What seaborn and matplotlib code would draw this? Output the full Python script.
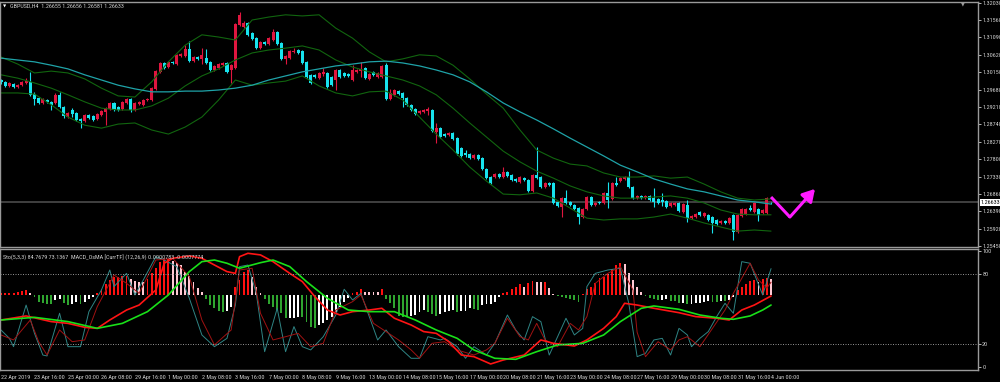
import matplotlib
matplotlib.use("Agg")
import matplotlib.pyplot as plt
from matplotlib import font_manager
import numpy as np
import seaborn as sns

# ---- candles (GBPUSD H4), prices in pips (price * 1e4) ----
opens = [
    12994, 12989, 12978, 12983, 12975, 12980, 12986, 12989, 12956, 12945,
    12932, 12940, 12935, 12932, 12954, 12921, 12894, 12913, 12905, 12889,
    12883, 12900, 12897, 12889, 12900, 12908, 12916, 12932, 12921, 12916,
    12932, 12943, 12913, 12929, 12926, 12940, 12940, 12970, 13016, 13040,
    13029, 13043, 13037, 13059, 13059, 13078, 13045, 13056, 13051, 13053,
    13043, 13021, 13026, 13034, 13040, 13021, 13026, 13142, 13137, 13148,
    13121, 13107, 13080, 13097, 13091, 13102, 13124, 13094, 13051, 13053,
    13070, 13075, 13072, 13043, 13008, 13008, 12999, 13010, 13013, 13002,
    12994, 13021, 13013, 13010, 12994, 13016, 13018, 13026, 12997, 13016,
    13002, 13002, 13034, 12943, 12954, 12964, 12959, 12945, 12926, 12916,
    12905, 12908, 12910, 12913, 12854, 12864, 12848, 12846, 12851, 12837,
    12810, 12797, 12794, 12783, 12792, 12783, 12754, 12732, 12732, 12740,
    12732, 12746, 12738, 12727, 12719, 12729, 12724, 12694, 12738, 12732,
    12705, 12716, 12716, 12665, 12651, 12675, 12665, 12656, 12648, 12624,
    12646, 12678, 12656, 12665, 12662, 12689, 12673, 12716, 12721, 12727,
    12732, 12705, 12675, 12681, 12675, 12681, 12675, 12673, 12670, 12667,
    12654, 12656, 12662, 12638, 12656, 12621, 12624, 12638, 12627, 12630,
    12624, 12616, 12608, 12613, 12608, 12630, 12584, 12627, 12632, 12648,
    12638, 12646, 12635, 12635, 12665.5,
]
highs = [
    12997, 12991, 12989, 12986, 12983, 12991, 12999, 13016, 12962, 12948,
    12945, 12943, 12937, 12959, 12962, 12924, 12908, 12918, 12908, 12891,
    12902, 12902, 12900, 12905, 12913, 12921, 12935, 12935, 12924, 12937,
    12945, 12945, 12935, 12937, 12943, 12945, 12975, 13021, 13043, 13043,
    13045, 13045, 13064, 13067, 13088, 13099, 13059, 13059, 13080, 13078,
    13045, 13034, 13040, 13043, 13043, 13037, 13148, 13178, 13153, 13151,
    13124, 13110, 13099, 13099, 13110, 13132, 13126, 13097, 13062, 13075,
    13080, 13078, 13075, 13045, 13010, 13010, 13016, 13026, 13016, 13005,
    13024, 13024, 13016, 13013, 13034, 13024, 13043, 13029, 13013, 13018,
    13016, 13034, 13040, 12970, 12970, 12967, 12962, 12948, 12929, 12918,
    12913, 12916, 12921, 12916, 12878, 12867, 12851, 12854, 12854, 12840,
    12813, 12805, 12797, 12794, 12794, 12786, 12756, 12735, 12743, 12743,
    12759, 12748, 12740, 12729, 12735, 12732, 12727, 12740, 12813, 12735,
    12719, 12719, 12719, 12667, 12678, 12697, 12667, 12659, 12651, 12648,
    12681, 12681, 12665, 12667, 12692, 12719, 12719, 12732, 12732, 12735,
    12748, 12708, 12684, 12684, 12684, 12684, 12702, 12675, 12689, 12670,
    12665, 12665, 12665, 12662, 12670, 12630, 12635, 12640, 12638, 12632,
    12627, 12619, 12616, 12616, 12624, 12632, 12632, 12648, 12648, 12656,
    12665, 12648, 12646, 12678, 12665.6,
]
lows = [
    12983, 12975, 12975, 12972, 12972, 12978, 12983, 12951, 12926, 12929,
    12929, 12932, 12913, 12929, 12918, 12891, 12891, 12894, 12883, 12864,
    12881, 12889, 12883, 12886, 12897, 12872, 12913, 12910, 12910, 12913,
    12929, 12908, 12910, 12926, 12924, 12937, 12937, 12967, 13013, 13024,
    13026, 13037, 13034, 13056, 13056, 13043, 13043, 13048, 13037, 13037,
    13018, 13018, 13024, 13032, 13013, 12986, 13024, 13140, 13134, 13113,
    13102, 13078, 13078, 13088, 13088, 13099, 13088, 13048, 13037, 13051,
    13067, 13064, 13037, 12999, 12983, 12999, 12997, 13005, 12972, 12978,
    12967, 12999, 13002, 13002, 12991, 13013, 13002, 12997, 12994, 13005,
    12999, 12999, 12940, 12940, 12951, 12954, 12921, 12924, 12910, 12900,
    12902, 12905, 12900, 12854, 12824, 12837, 12840, 12843, 12832, 12792,
    12786, 12786, 12781, 12781, 12778, 12751, 12727, 12713, 12729, 12729,
    12729, 12732, 12721, 12719, 12716, 12721, 12692, 12692, 12727, 12702,
    12702, 12708, 12659, 12651, 12624, 12659, 12654, 12643, 12605, 12621,
    12643, 12654, 12654, 12659, 12659, 12648, 12670, 12708, 12719, 12724,
    12702, 12673, 12673, 12673, 12673, 12667, 12651, 12659, 12654, 12648,
    12651, 12654, 12638, 12635, 12611, 12619, 12621, 12627, 12624, 12613,
    12581, 12602, 12605, 12605, 12605, 12562, 12581, 12624, 12630, 12640,
    12635, 12613, 12632, 12632, 12658.1,
]
closes = [
    12989, 12978, 12986, 12975, 12980, 12989, 12991, 12954, 12943, 12932,
    12943, 12935, 12926, 12954, 12921, 12897, 12905, 12902, 12886, 12883,
    12900, 12891, 12886, 12902, 12910, 12918, 12932, 12913, 12913, 12935,
    12943, 12913, 12932, 12935, 12940, 12943, 12972, 13018, 13040, 13026,
    13043, 13040, 13062, 13064, 13078, 13045, 13056, 13051, 13062, 13040,
    13021, 13032, 13037, 13040, 13016, 13034, 13145, 13170, 13148, 13116,
    13105, 13080, 13097, 13091, 13107, 13124, 13091, 13051, 13059, 13072,
    13072, 13067, 13040, 13002, 12986, 13002, 13013, 13016, 12975, 12980,
    13021, 13002, 13005, 13005, 13021, 13021, 13024, 12999, 13010, 13008,
    13013, 13032, 12943, 12959, 12967, 12956, 12945, 12926, 12913, 12902,
    12910, 12913, 12916, 12856, 12864, 12840, 12843, 12851, 12835, 12794,
    12789, 12792, 12783, 12792, 12781, 12754, 12729, 12716, 12740, 12732,
    12746, 12735, 12724, 12721, 12732, 12724, 12694, 12738, 12729, 12705,
    12716, 12710, 12662, 12654, 12675, 12662, 12656, 12646, 12624, 12646,
    12678, 12656, 12662, 12662, 12689, 12670, 12716, 12710, 12729, 12732,
    12705, 12675, 12681, 12675, 12681, 12670, 12665, 12662, 12665, 12651,
    12662, 12662, 12640, 12659, 12621, 12627, 12632, 12630, 12635, 12616,
    12608, 12605, 12613, 12608, 12621, 12584, 12630, 12646, 12646, 12643,
    12662, 12630, 12643, 12675, 12663.3,
]

# ---- overlays sampled every 4 bars (pips) ----
overlay_bars = list(range(0, 185, 4))
bb_upper = [
    13056, 13037, 13013, 13018, 13013, 12997, 12972, 12951, 12948, 12989,
    13043, 13088, 13116, 13110, 13102, 13156, 13164, 13170, 13167, 13170,
    13134, 13107, 13070, 13043, 13051, 13062, 13059, 13034, 12997, 12956,
    12918, 12859, 12805, 12783, 12767, 12762, 12743, 12732, 12732, 12735,
    12729, 12732, 12713, 12692, 12675, 12670, 12673,
]
bb_mid = [
    13008, 12999, 12986, 12972, 12954, 12935, 12918, 12913, 12913, 12924,
    12945, 12978, 13005, 13024, 13048, 13067, 13075, 13080, 13086, 13075,
    13048, 13029, 13016, 13005, 12994, 12978, 12954, 12918, 12878, 12840,
    12802, 12773, 12748, 12729, 12708, 12692, 12681, 12675, 12675, 12678,
    12681, 12675, 12662, 12643, 12632, 12630, 12630,
]
bb_lower = [
    12959, 12959, 12956, 12927, 12894, 12872, 12864, 12875, 12878, 12859,
    12848, 12867, 12894, 12940, 12994, 12980, 12986, 12991, 13005, 12978,
    12959, 12951, 12962, 12964, 12940, 12894, 12848, 12805, 12759, 12721,
    12686, 12684, 12689, 12675, 12648, 12621, 12616, 12619, 12619, 12624,
    12632, 12621, 12608, 12597, 12586, 12589, 12586,
]
slow_ma = [
    13053, 13048, 13043, 13034, 13024, 13008, 12994, 12980, 12970, 12962,
    12962, 12964, 12964, 12967, 12972, 12980, 12994, 13005, 13016, 13024,
    13032, 13037, 13043, 13045, 13040, 13032, 13021, 13008, 12989, 12962,
    12932, 12908, 12886, 12862, 12837, 12813, 12789, 12764, 12746, 12727,
    12713, 12700, 12692, 12681, 12670, 12665, 12659,
]
last_price = 1.26633
forecast_bars = [184, 188.5, 194.5]
forecast_prices = [1.2678, 1.2624, 1.2700]

price_ticks = [1.32030, 1.31560, 1.31090, 1.30620, 1.30150, 1.29680, 1.29210,
               1.28740, 1.28270, 1.27800, 1.27330, 1.26860, 1.26390, 1.25920, 1.25450]
date_labels = ["22 Apr 2019", "23 Apr 16:00", "25 Apr 00:00", "26 Apr 08:00",
               "29 Apr 16:00", "1 May 00:00", "2 May 08:00", "3 May 16:00",
               "7 May 00:00", "8 May 08:00", "9 May 16:00", "13 May 00:00",
               "14 May 08:00", "15 May 16:00", "17 May 00:00", "20 May 08:00",
               "21 May 16:00", "23 May 00:00", "24 May 08:00", "27 May 16:00",
               "29 May 00:00", "30 May 08:00", "31 May 16:00", "4 Jun 00:00"]

# ---- indicator window (0-100 scale) ----
osma = [
    1.4, 1.4, 2.0, 2.0, 2.3, 3.7, 4.3, 1.4, -2.0, -5.7,
    -6.6, -7.8, -8.0, -4.3, -3.7, -7.2, -8.6, -7.8, -5.7, -7.8,
    -5.7, -3.7, -1.4, 1.4, 4.9, 9.5, 12.9, 15.2, 15.8, 16.0,
    16.4, 13.5, 12.4, 11.5, 11.3, 13.5, 18.7, 23.0, 28.7, 30.7,
    31.0, 29.6, 27.9, 25.9, 20.1, 16.4, 11.5, 5.7, 2.9, -3.7,
    -8.6, -11.5, -13.5, -14.4, -13.5, -10.0, 7.2, 12.9, 20.1, 21.6,
    15.8, 7.2, 1.4, -3.7, -7.8, -10.0, -12.9, -15.2, -20.1, -19.8,
    -19.5, -18.7, -19.3, -23.0, -27.3, -28.7, -25.9, -23.9, -21.6, -18.7,
    -14.4, -10.0, -5.7, -2.9, 2.0, 2.9, 4.9, 2.9, 2.8, 2.7,
    2.6, 4.9, -3.7, -7.2, -11.0, -18.1, -18.5, -18.7, -18.1, -17.2,
    -14.4, -12.9, -14.4, -16.4, -18.1, -16.4, -14.4, -13.5, -12.9, -14.4,
    -14.0, -13.5, -11.5, -12.0, -12.5, -8.6, -7.8, -7.6, -5.7, -2.0,
    1.4, 2.9, 4.9, 7.2, 9.5, 7.2, 10.6, 12.4, 11.5, 11.3,
    11.6, 5.7, 0.9, -0.9, -1.4, -2.9, -3.7, -4.3, -5.7, 1.0,
    4.9, 7.2, 10.6, 14.4, 15.8, 18.1, 22.1, 25.9, 27.9, 26.7,
    18.7, 12.9, 7.2, 2.9, -0.9, -2.9, -3.7, -4.3, -4.0, -3.8,
    -5.0, -5.5, -7.2, -6.8, -7.8, -7.5, -7.0, -6.6, -5.7, -5.5,
    -5.9, -6.2, -5.0, -5.3, -4.3, -2.0, 4.3, 7.2, 9.5, 12.4,
    12.9, 11.5, 13.5, 14.4, 14.0,
]
stoch_k_bars = [0, 2, 3, 6, 8, 10, 11, 14, 16, 19, 21, 24, 26, 27, 30, 32, 34, 37, 39, 42,
                45, 48, 51, 54, 56, 57, 59, 61, 63, 66, 68, 70, 72, 74, 77, 80, 82, 84, 86, 88,
                90, 92, 95, 98, 100, 102, 105, 106, 109, 111, 113, 116, 118, 121, 123, 125, 127,
                129, 131, 133, 135, 137, 139, 140, 142, 145, 148, 150, 152, 154, 156, 158, 160,
                162, 164, 165, 167, 169, 171, 173, 175, 177, 179, 182, 184]
stoch_k = [31.9, 24.7, 17.5, 53.4, 29, 10.3, 9.5, 46.3, 17.5, 17.5, 47.7, 66.4, 83.6, 69.3,
           80.7, 62.1, 75, 95.1, 92.2, 86.5, 59.2, 27.6, 17.5, 24.7, 53.4, 86.5, 87.9, 63.5,
           13.2, 50.6, 13.2, 34.8, 17.5, 14.7, 26.1, 44.8, 67, 57.8, 63.5, 43.4, 23.3, 31.9,
           17.5, 7.5, 7.5, 26.1, 23.3, 24.7, 17.5, 7.5, 17.5, 10.3, 20.4, 44.8, 31.9, 23.3,
           43.4, 39.1, 10.3, 26.1, 42, 27.6, 33.3, 69.3, 80.7, 83.6, 85.1, 54.9, 8.9, 11.8,
           23.3, 24.7, 10.3, 33.3, 27.6, 17.5, 24.7, 30.5, 43.4, 54.9, 46.3, 90.8, 89.4,
           62.1, 84.8]
stoch_d_bars = [0, 3, 7, 9, 11, 14, 17, 20, 23, 27, 30, 33, 37, 41, 45, 48, 51, 55, 57, 60,
                62, 65, 68, 71, 74, 77, 80, 84, 86, 89, 92, 95, 98, 100, 103, 106, 109, 113,
                116, 118, 121, 124, 126, 128, 130, 133, 136, 138, 140, 142, 145, 148, 151, 152,
                154, 157, 160, 162, 164, 167, 170, 173, 175, 179, 181, 183, 184]
stoch_d = [27.6, 23.3, 40.5, 21.8, 10.3, 31.9, 21.8, 23.3, 52, 79.3, 72.1, 63.5, 92.2, 93.7,
           77.9, 40.5, 19, 31.9, 83.6, 85.1, 46.3, 23.3, 26.1, 29, 17.5, 20.4, 49.1, 56.3,
           62.1, 37.6, 30.5, 23.3, 14.7, 7.5, 20.4, 21.8, 14.7, 10.3, 14.7, 20.4, 42, 26.1,
           23.3, 37.6, 23.3, 17.5, 37.6, 31.9, 43.4, 72.1, 80.7, 86.5, 66.4, 30, 8.9, 21.8,
           14.7, 23.3, 26.1, 17.5, 33.3, 49.1, 63.5, 89.4, 75, 68, 73.1]
macd_bars = [0, 6, 12, 16, 20, 23, 26, 30, 33, 37, 39, 41, 45, 48, 51, 54, 56, 57, 59, 62,
             65, 69, 72, 75, 78, 81, 84, 88, 91, 94, 98, 101, 104, 107, 110, 113, 117, 120,
             125, 129, 132, 137, 140, 144, 147, 149, 152, 156, 162, 166, 171, 174, 177, 180, 184]
macd_main = [40.5, 44, 39.1, 37.6, 34.2, 33.3, 40.5, 49.1, 53.4, 66.4, 89.4, 93.7, 95.7, 93.7,
             87.9, 82.2, 80.7, 95.1, 98, 96.6, 90.8, 80.7, 73.6, 60.6, 49.1, 44.8, 47.7, 49.1,
             50.6, 42, 36.2, 30.5, 29, 21.8, 10.3, 8.9, 2.6, 6, 10.3, 23.3, 20.4, 18.1, 23.3,
             33.3, 43.4, 54.9, 53.4, 50.6, 46.8, 43.4, 42, 40.5, 49.1, 53.4, 61.2]
signal_bars = [0, 8, 16, 23, 29, 35, 40, 45, 48, 51, 54, 57, 62, 65, 69, 73, 78, 83, 88, 94,
               99, 104, 109, 113, 118, 123, 128, 133, 139, 144, 148, 153, 156, 162, 167, 172,
               175, 179, 182, 184]
macd_signal = [40.5, 42.8, 39.1, 33.3, 37.6, 47.7, 62.1, 82.2, 90.8, 92.2, 89.4, 85.1, 89.9,
               92.2, 86.5, 73.6, 59.2, 49.1, 47.7, 47.7, 40.5, 31.9, 24.7, 14.7, 7.5, 6.6, 13.2,
               19, 20.4, 27.6, 39.1, 50.6, 52.6, 49.7, 44.8, 42, 41.1, 44, 49.1, 53.4]

# ---- styling ----
BG = "black"
TXT = "#d0d0d0"
FRAME = "#9a9a9a"
BULL = "#e0163f"
BEAR = "#17e3ee"
BAND = "#11650f"
MA_COL = "#1fa3a8"
OSMA_ZERO = 62


def pick_font():
    # a narrow face keeps the small MT4-style labels inside their slots
    for fam, size in [("Liberation Sans Narrow", 4.6), ("DejaVu Sans Condensed", 4.2),
                      ("Roboto Condensed", 4.4), ("Liberation Sans", 3.9)]:
        try:
            font_manager.findfont(font_manager.FontProperties(family=fam),
                                  fallback_to_default=False)
            return fam, size
        except ValueError:
            continue
    return "DejaVu Sans", 3.4


FONT, FS = pick_font()

sns.set_theme(style="dark", rc={"axes.facecolor": BG, "figure.facecolor": BG,
                                "axes.edgecolor": FRAME, "text.color": TXT,
                                "xtick.color": TXT, "ytick.color": TXT})
plt.rcParams["font.family"] = [FONT, "DejaVu Sans"]

fig = plt.figure(figsize=(10, 3.82), dpi=100)
ax = fig.add_axes([0.0, 1 - 247 / 382, 0.978, 245 / 382])
ax2 = fig.add_axes([0.0, 1 - 370 / 382, 0.978, 121 / 382])

o = np.array(opens) / 1e4
h = np.array(highs) / 1e4
lo = np.array(lows) / 1e4
c = np.array(closes) / 1e4
x = np.arange(len(c))
cols = np.where(c >= o, BULL, BEAR)

# candles
ax.vlines(x, lo, h, colors=cols, linewidth=0.8)
body = np.maximum(np.abs(c - o), 0.00025)
ax.bar(x, body, bottom=np.minimum(o, c), width=0.72, color=cols, linewidth=0)

# overlays
for series in (bb_upper, bb_mid, bb_lower):
    sns.lineplot(x=overlay_bars, y=np.array(series) / 1e4, ax=ax, color=BAND, linewidth=0.8)
sns.lineplot(x=overlay_bars, y=np.array(slow_ma) / 1e4, ax=ax, color=MA_COL, linewidth=0.9)

ax.axhline(last_price, color="#454545", linewidth=1.3, zorder=0.5)
ax.plot(forecast_bars[:2], forecast_prices[:2], color="#ff1aff", linewidth=2.2,
        solid_capstyle="butt")
ax.annotate("", xy=(forecast_bars[2], forecast_prices[2]),
            xytext=(forecast_bars[1], forecast_prices[1]),
            arrowprops=dict(arrowstyle="-|>,head_length=0.6,head_width=0.35",
                            color="#ff1aff", linewidth=2.2, shrinkA=0, shrinkB=0))

ax.set_xlim(-0.24, 233.45)
ax.set_ylim(1.25431, 1.32046)
ax.set_xlabel("")
ax.set_ylabel("")
ax.set_xticks([])
ax.yaxis.tick_right()
ax.set_yticks(price_ticks)
ax.set_yticklabels([f"{p:.5f}" for p in price_ticks])
ax.tick_params(axis="y", colors=TXT, labelsize=FS, length=2, width=0.6, pad=1,
               direction="out")
ax.text(1.0025, last_price, f"{last_price:.5f}", transform=ax.get_yaxis_transform(),
        fontsize=FS, color="black", va="center", ha="left",
        bbox=dict(boxstyle="square,pad=0.12", fc="white", ec="none"))

# indicator window
hist_cols = []
prev = 0.0
for v in osma:
    if v >= 0:
        hist_cols.append("#ff1010" if v >= prev else "#ffc8d2")
    else:
        hist_cols.append("#2fa52f" if v <= prev else "#ffffff")
    prev = v
ax2.bar(x, osma, bottom=OSMA_ZERO, width=0.45, color=hist_cols, linewidth=0)

sns.lineplot(x=stoch_k_bars, y=stoch_k, ax=ax2, color="#2f8585", linewidth=0.7)
sns.lineplot(x=stoch_d_bars, y=stoch_d, ax=ax2, color="#a01212", linewidth=0.7)
sns.lineplot(x=macd_bars, y=macd_main, ax=ax2, color="#ff1414", linewidth=1.2)
sns.lineplot(x=signal_bars, y=macd_signal, ax=ax2, color="#19e019", linewidth=1.2)

for lvl in (20, 80):
    ax2.axhline(lvl, color="#a8a8a8", linewidth=0.6, linestyle=(0, (1.2, 1.8)))

ax2.set_xlim(-0.24, 233.45)
ax2.set_ylim(-2.6, 101.7)
ax2.set_xlabel("")
ax2.set_ylabel("")
ax2.yaxis.tick_right()
ax2.set_yticks([0, 20, 80, 100])
ax2.set_yticklabels(["0", "20", "80", "100"])
ax2.tick_params(axis="y", colors=TXT, labelsize=FS, length=2, width=0.6, pad=1)
ax2.set_xticks(np.arange(0, 185, 8))
ax2.set_xticklabels(date_labels)
ax2.tick_params(axis="x", colors=TXT, labelsize=FS, length=2, width=0.6, pad=1.5)
for lbl in ax2.get_xticklabels():
    lbl.set_horizontalalignment("left")

for a in (ax, ax2):
    for s in a.spines.values():
        s.set_color(FRAME)
        s.set_linewidth(1.0)

# header texts
fig.text(10 / 1000, 1 - 6 / 382, "GBPUSD,H4  1.26655 1.26656 1.26581 1.26633",
         fontsize=FS, color=TXT, va="center", ha="left")
fig.text(3 / 1000, 1 - 6 / 382, "\u25bc", fontsize=3, color="white", va="center",
         ha="left", family="DejaVu Sans")
fig.text(963 / 1000, 1 - 4 / 382, "\u25bc", fontsize=3.5, color="#9a9a9a",
         va="center", ha="center", family="DejaVu Sans")
fig.text(3 / 1000, 1 - 257 / 382,
         "Sto(5,3,3) 84.7679 73.1367  MACD_OsMA [CurrTF] (12,26,9) 0.0000783 -0.0007774",
         fontsize=FS, color=TXT, va="center", ha="left")

fig.savefig("out.png", dpi=100, facecolor=BG)
